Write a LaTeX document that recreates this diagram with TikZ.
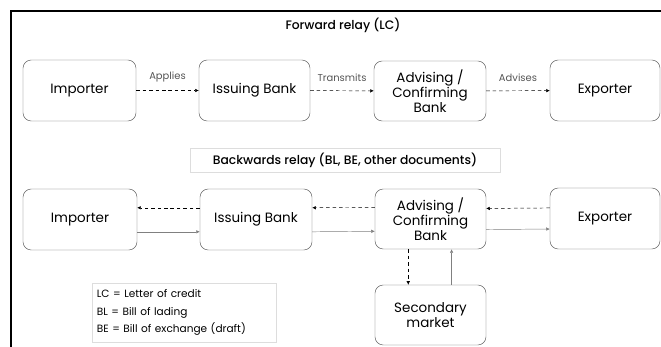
\documentclass[tikz,border=0pt]{standalone}
\usepackage{fontspec}
\setmainfont{Poppins}
\newfontfamily\titlefont{Poppins Medium}
\usepackage{tikz}
\usetikzlibrary{arrows.meta}
\usetikzlibrary{calc}

\definecolor{boxline}{HTML}{555555}
\definecolor{labelgray}{HTML}{555555}
\definecolor{paleline}{HTML}{DDDDDD}

\tikzset{
    party/.style={draw=boxline, thin, rounded corners=7pt, align=center, font=\fontsize{11.5}{13}\selectfont, inner sep=2pt},
    fwd/.style={dash pattern=on 3pt off 2.5pt, -{Latex[length=3pt,width=3pt]}},
    back/.style={dash pattern=on 3pt off 2.5pt, -{Latex[length=3pt,width=3pt]}},
    docs/.style={gray, thin, -{Latex[length=3pt,width=3pt]}},
    verb/.style={above, text=labelgray, font=\fontsize{8.5}{9}\selectfont}
}

\begin{document}
\begin{tikzpicture}[x=0.03cm, y=-0.03cm]

        \useasboundingbox (0,0) rectangle (661,347);

        \draw[line width=1.1pt] (11,347) coordinate(bottomleft) -- (11,11) coordinate(topleft) -- (661,11) coordinate(topright);

        \node[font=\titlefont\fontsize{10.5}{12}\selectfont] (fwdtitle) at (343,25) {Forward relay (LC)};

        \node[party, minimum width=113*0.03cm, minimum height=61*0.03cm] (importerf) at (79.5,90.5) {Importer};
        \node[party, minimum width=111*0.03cm, minimum height=61*0.03cm] (issuingf) at (254.5,90.5) {Issuing Bank};
        \node[party, minimum width=112*0.03cm, minimum height=60*0.03cm] (advisingf) at (430,91) {Advising /\\Confirming\\Bank};
        \node[party, minimum width=110*0.03cm, minimum height=61*0.03cm] (exporterf) at (605,90.5) {Exporter};

        \draw[fwd] (importerf) -- node[verb, yshift=4pt]{Applies} (issuingf);
        \draw[fwd] (issuingf) -- node[verb, yshift=4pt]{Transmits} (advisingf);
        \draw[fwd] (advisingf) -- node[verb, yshift=4pt]{Advises} (exporterf);

        \node[draw=paleline, minimum width=310*0.03cm, minimum height=24*0.03cm, font=\titlefont\fontsize{10.5}{12}\selectfont] (backtitle) at (345,160) {Backwards relay (BL, BE, other documents)};

        \node[party, minimum width=114*0.03cm, minimum height=61*0.03cm] (importerb) at (80,219.5) {Importer};
        \node[party, minimum width=112*0.03cm, minimum height=61*0.03cm] (issuingb) at (256,219.5) {Issuing Bank};
        \node[party, minimum width=111*0.03cm, minimum height=60*0.03cm] (advisingb) at (430.5,219) {Advising /\\Confirming\\Bank};
        \node[party, minimum width=110*0.03cm, minimum height=61*0.03cm] (exporterb) at (605,218.5) {Exporter};
        \node[party, minimum width=111*0.03cm, minimum height=60*0.03cm] (secondary) at (430.5,315) {Secondary\\market};

        \draw[back] ([yshift=10pt]issuingb.west) -- ([yshift=10pt]importerb.east);
        \draw[docs] ([yshift=-10.5pt]importerb.east) -- ([yshift=-10.5pt]issuingb.west);
        \draw[back] ([yshift=10pt]advisingb.west) -- ([yshift=10pt]issuingb.east);
        \draw[docs] ([yshift=-10.5pt]issuingb.east) -- ([yshift=-10.5pt]advisingb.west);
        \draw[back] ([yshift=9pt]exporterb.west) -- ([yshift=9pt]advisingb.east);
        \draw[docs] ([yshift=-9pt]advisingb.east) -- ([yshift=-9pt]exporterb.west);

        \draw[back] ([xshift=-19pt]advisingb.south) -- ([xshift=-19pt]advisingb.south |- secondary.north);
        \draw[docs] ([xshift=18pt]secondary.north) -- ([xshift=18pt]secondary.north |- advisingb.south);

        \node[draw=paleline, text width=175*0.03cm, minimum height=59*0.03cm, align=left, anchor=north west, inner xsep=4pt, font=\fontsize{9}{15}\selectfont] (legend) at (92,283) {LC = Letter of credit\\BL = Bill of lading\\BE = Bill of exchange (draft)};

    \end{tikzpicture}
\end{document}
